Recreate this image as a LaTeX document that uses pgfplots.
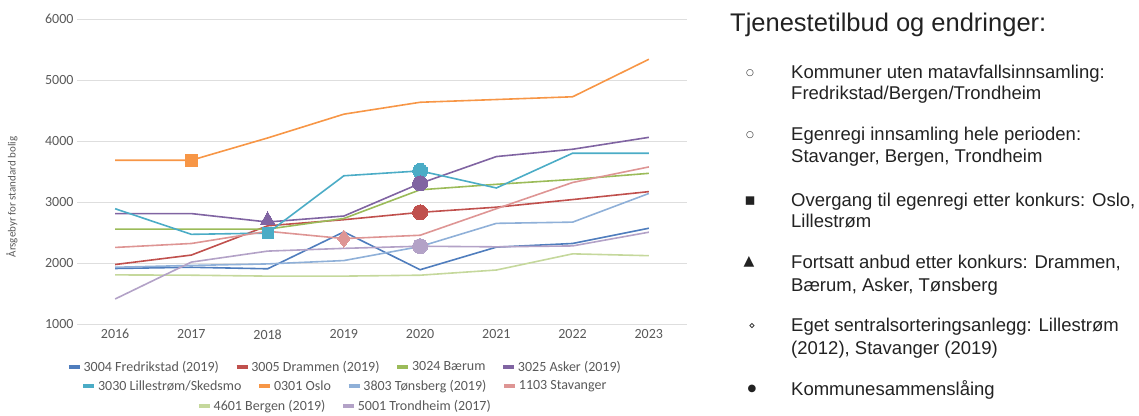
\documentclass[border=0pt]{standalone}
\usepackage{fontspec}
\usepackage{pgfplots}
\pgfplotsset{compat=1.18}
\setmainfont{Liberation Sans}
\newfontfamily\chartfont{Carlito}
\newfontfamily\symfont{DejaVu Sans}

\definecolor{fred}{HTML}{4F7DBD}
\definecolor{dram}{HTML}{C0504D}
\definecolor{baerum}{HTML}{9BBB59}
\definecolor{asker}{HTML}{8064A2}
\definecolor{lill}{HTML}{4BACC6}
\definecolor{oslo}{HTML}{F79646}
\definecolor{tons}{HTML}{8FB0D8}
\definecolor{stav}{HTML}{DE9594}
\definecolor{bergen}{HTML}{C5D89C}
\definecolor{trond}{HTML}{B3A2C7}
\definecolor{txt}{HTML}{222222}
\definecolor{ticktxt}{HTML}{595959}

\pgfplotsset{
  ln/.style={line width=1.6pt, mark=none},
  pt/.style={only marks, line width=0pt},
  legrow/.style={
    hide axis, scale only axis, width=10pt, height=10pt,
    xmin=0, xmax=1, ymin=0, ymax=1,
    legend style={at={(0.5,0.5)}, anchor=center, draw=none, fill=none,
      legend columns=-1, font=\chartfont\fontsize{14}{15}\selectfont,
      text=ticktxt, inner sep=0pt,
      /tikz/every even column/.append style={column sep=14pt}},
    legend image code/.code={\draw[##1, line width=3.5pt] (0pt,0pt) -- (11pt,0pt);},
  },
}

\begin{document}
\begin{tikzpicture}[x=1pt,y=1pt]
\useasboundingbox (0,0) rectangle (1139,415);

\begin{axis}[
  at={(77pt,91pt)}, anchor=south west,
  width=610pt, height=305pt, scale only axis,
  xmin=2015.5, xmax=2023.5, ymin=1000, ymax=6000,
  xtick={2016,...,2023}, ytick={1000,2000,...,6000},
  axis line style={draw=none}, major tick length=0pt,
  ymajorgrids, grid style={draw=black!13, line width=0.9pt},
  tick label style={font=\chartfont\fontsize{14}{16}\selectfont, text=ticktxt},
  /pgf/number format/1000 sep={},
  /pgf/number format/assume math mode=true,
  xticklabel style={yshift=-2pt},
]
\addplot[ln, fred] coordinates {(2016,1910) (2017,1930) (2018,1905) (2019,2510) (2020,1890) (2021,2260) (2022,2320) (2023,2570)};
\addplot[ln, dram] coordinates {(2016,1975) (2017,2130) (2018,2610) (2019,2710) (2020,2830) (2021,2915) (2022,3040) (2023,3170)};
\addplot[ln, baerum] coordinates {(2016,2555) (2017,2555) (2018,2555) (2019,2730) (2020,3200) (2021,3290) (2022,3370) (2023,3470)};
\addplot[ln, asker] coordinates {(2016,2810) (2017,2810) (2018,2672) (2019,2770) (2020,3305) (2021,3745) (2022,3865) (2023,4060)};
\addplot[ln, lill] coordinates {(2016,2890) (2017,2470) (2018,2490) (2019,3430) (2020,3510) (2021,3230) (2022,3800) (2023,3800)};
\addplot[ln, oslo] coordinates {(2016,3685) (2017,3685) (2018,4050) (2019,4440) (2020,4635) (2021,4680) (2022,4725) (2023,5340)};
\addplot[ln, tons] coordinates {(2016,1930) (2017,1960) (2018,1985) (2019,2040) (2020,2270) (2021,2650) (2022,2670) (2023,3140)};
\addplot[ln, stav] coordinates {(2016,2255) (2017,2320) (2018,2520) (2019,2400) (2020,2455) (2021,2890) (2022,3320) (2023,3575)};
\addplot[ln, bergen] coordinates {(2016,1805) (2017,1800) (2018,1785) (2019,1785) (2020,1800) (2021,1885) (2022,2150) (2023,2120)};
\addplot[ln, trond] coordinates {(2016,1410) (2017,2015) (2018,2195) (2019,2240) (2020,2275) (2021,2265) (2022,2280) (2023,2505)};
% markers
\addplot[pt, mark=square*, mark size=6pt, mark options={draw=oslo, fill=oslo}] coordinates {(2017,3685)};
\addplot[pt, mark=square*, mark size=5.5pt, mark options={draw=lill, fill=lill}] coordinates {(2018,2490)};
\addplot[pt, mark=triangle*, mark size=8.5pt, mark options={draw=asker, fill=asker}] coordinates {(2018,2700)};
\addplot[pt, mark=diamond*, mark size=8.5pt, mark options={draw=stav, fill=stav}] coordinates {(2019,2400)};
\addplot[pt, mark=*, mark size=7.5pt, mark options={draw=lill, fill=lill}] coordinates {(2020,3510)};
\addplot[pt, mark=*, mark size=7.5pt, mark options={draw=asker, fill=asker}] coordinates {(2020,3305)};
\addplot[pt, mark=*, mark size=7.5pt, mark options={draw=dram, fill=dram}] coordinates {(2020,2830)};
\addplot[pt, mark=*, mark size=7.5pt, mark options={draw=trond, fill=trond}] coordinates {(2020,2275)};
\end{axis}

\node[rotate=90, font=\chartfont\fontsize{11}{12}\selectfont, text=ticktxt] at (12,218) {Årsgebyr for standard bolig};

% legend rows
\begin{axis}[legrow, at={(345pt,48pt)}, anchor=center]
\addlegendimage{fred}\addlegendentry{3004 Fredrikstad (2019)}
\addlegendimage{dram}\addlegendentry{3005 Drammen (2019)}
\addlegendimage{baerum}\addlegendentry{3024 Bærum}
\addlegendimage{asker}\addlegendentry{3025 Asker (2019)}
\end{axis}
\begin{axis}[legrow, at={(345pt,29pt)}, anchor=center]
\addlegendimage{lill}\addlegendentry{3030 Lillestrøm/Skedsmo}
\addlegendimage{oslo}\addlegendentry{0301 Oslo}
\addlegendimage{tons}\addlegendentry{3803 Tønsberg (2019)}
\addlegendimage{stav}\addlegendentry{1103 Stavanger}
\end{axis}
\begin{axis}[legrow, at={(345pt,9pt)}, anchor=center]
\addlegendimage{bergen}\addlegendentry{4601 Bergen (2019)}
\addlegendimage{trond}\addlegendentry{5001 Trondheim (2017)}
\end{axis}

% right-hand text
\begin{scope}[every node/.style={anchor=base west, inner sep=0pt, text=txt, font=\fontsize{18.5}{22}\selectfont}]
\node[font=\fontsize{25.5}{30}\selectfont] at (730,415-32) {Tjenestetilbud og endringer:};
\node at (791,415-78.5) {Kommuner uten matavfallsinnsamling:};
\node at (791,415-99.5) {Fredrikstad/Bergen/Trondheim};
\node at (791,415-140.5) {Egenregi innsamling hele perioden:};
\node at (791,415-162.5) {Stavanger, Bergen, Trondheim};
\node at (791,415-206.5) {Overgang til egenregi etter konkurs: Oslo,};
\node at (791,415-227.5) {Lillestrøm};
\node at (791,415-268.5) {Fortsatt anbud etter konkurs: Drammen,};
\node at (791,415-291.5) {Bærum, Asker, Tønsberg};
\node at (791,415-331.5) {Eget sentralsorteringsanlegg: Lillestrøm};
\node at (791,415-354.5) {(2012), Stavanger (2019)};
\node at (791,415-395.5) {Kommunesammenslåing};
\end{scope}
\begin{scope}[every node/.style={anchor=center, inner sep=0pt, text=txt}]
\node[font=\symfont\fontsize{9}{9}\selectfont] at (750,415-73) {○};
\node[font=\symfont\fontsize{9}{9}\selectfont] at (750,415-135) {○};
\node[font=\symfont\fontsize{17}{17}\selectfont] at (750,415-201) {▪};
\node[font=\symfont\fontsize{14}{14}\selectfont] at (749,415-262) {▲};
\node[font=\symfont\fontsize{11}{11}\selectfont] at (752,415-326) {⋄};
\node[font=\symfont\fontsize{10}{10}\selectfont] at (752,415-389) {●};
\end{scope}
\end{tikzpicture}
\end{document}
